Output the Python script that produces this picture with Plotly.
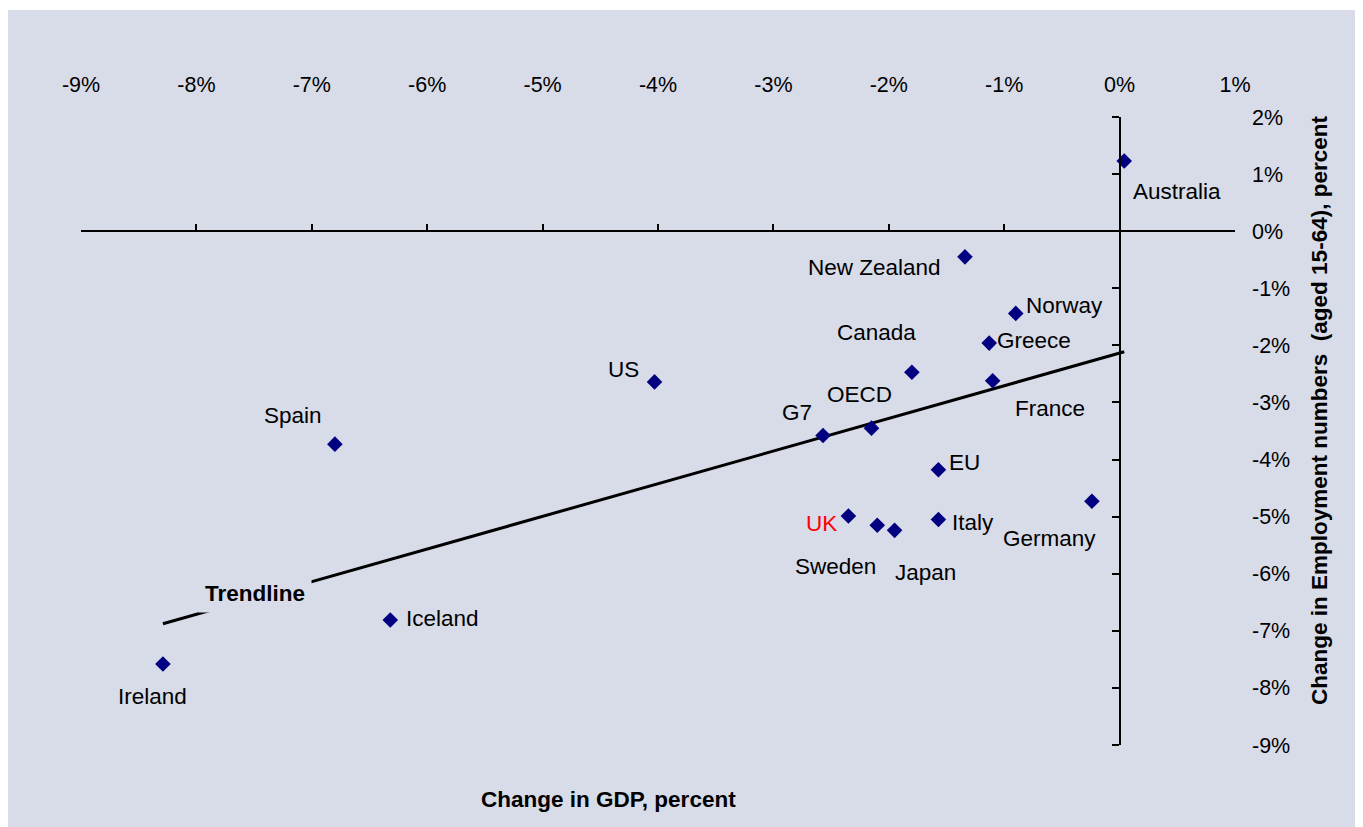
import numpy as np
import plotly.graph_objects as go

# ---------------- data ----------------
countries = ["Australia", "New Zealand", "Norway", "Greece", "France", "Canada",
             "US", "Spain", "G7", "OECD", "EU", "Germany", "UK", "Sweden",
             "Japan", "Italy", "Iceland", "Ireland"]
gdp_change = [0.04, -1.34, -0.90, -1.13, -1.10, -1.80, -4.03, -6.80, -2.57,
              -2.15, -1.57, -0.24, -2.35, -2.10, -1.95, -1.57, -6.32, -8.29]
emp_change = [1.23, -0.45, -1.44, -1.96, -2.62, -2.47, -2.64, -3.73, -3.58,
              -3.45, -4.18, -4.73, -4.99, -5.15, -5.24, -5.05, -6.81, -7.58]

x_ticks = list(range(-9, 2))
x_tick_labels = [f"{v}%" for v in x_ticks]
y_ticks = list(range(-9, 3))
y_tick_labels = [f"{v}%" for v in y_ticks]

# label placement (pixel offsets from the point: right, down)
label_offsets = {
    "Australia": (53, 31), "New Zealand": (-90, 11), "Norway": (49, -8),
    "Greece": (45, -3), "France": (57, 28), "Canada": (-35, -40),
    "US": (-31, -12), "Spain": (-42, -29), "G7": (-26, -23),
    "OECD": (-12, -34), "EU": (26, -7), "Germany": (-42, 37),
    "UK": (-27, 7), "Sweden": (-42, 41), "Japan": (31, 42),
    "Italy": (35, 3), "Iceland": (52, -1), "Ireland": (-10, 33),
}

BG = "#D8DBE8"
FONT = "Liberation Sans, Arial, sans-serif"
FS_TICK = 21.5
FS = 22.5
X_RANGE = [-9, 1]
Y_RANGE = [-9, 2]

# trendline: least squares fit over all points, spanning the data range
slope, intercept = np.polyfit(gdp_change, emp_change, 1)
tx = np.array([min(gdp_change), max(gdp_change)])
ty = slope * tx + intercept

fig = go.Figure()

fig.add_trace(go.Scatter(
    x=tx, y=ty, mode="lines", xaxis="x", yaxis="y",
    line=dict(color="black", width=3),
    hoverinfo="skip", showlegend=False,
))

fig.add_trace(go.Scatter(
    x=gdp_change, y=emp_change, mode="markers", xaxis="x2", yaxis="y2",
    marker=dict(symbol="diamond", size=12, color="#000080",
                line=dict(width=0)),
    text=countries, showlegend=False,
))

for name, xv, yv in zip(countries, gdp_change, emp_change):
    dx, dy = label_offsets[name]
    fig.add_annotation(
        x=xv, y=yv, xref="x", yref="y", text=name, showarrow=False,
        xshift=dx, yshift=-dy, xanchor="center", yanchor="middle",
        font=dict(family=FONT, size=FS, color="red" if name == "UK" else "black"),
    )

# trendline label (with background that hides the line behind it)
fig.add_annotation(
    x=-7.49, y=-6.34, xref="x", yref="y", text="<b>Trendline</b>",
    showarrow=False, bgcolor=BG, borderpad=6,
    xanchor="center", yanchor="middle",
    font=dict(family=FONT, size=FS, color="black"),
)

# axis titles
fig.add_annotation(
    x=0.4567, y=-0.086, xref="paper", yref="paper",
    xanchor="center", yanchor="middle",
    text="<b>Change in GDP, percent</b>", showarrow=False,
    font=dict(family=FONT, size=FS, color="black"),
)
fig.add_annotation(
    x=1.0737, y=0.532, xref="paper", yref="paper", textangle=-90,
    xanchor="center", yanchor="middle",
    text="<b>Change in Employment numbers  (aged 15-64), percent</b>",
    showarrow=False,
    font=dict(family=FONT, size=FS, color="black"),
)

# background panel
fig.add_shape(type="rect", xref="paper", yref="paper",
              x0=-0.08, x1=1.1083, y0=-0.15, y1=1.1704,
              fillcolor=BG, line=dict(width=0), layer="below")

axis_common = dict(showgrid=False, zeroline=False, fixedrange=True)

# page body has an 8px margin; the figure is sized/offset to compensate
fig.update_layout(
    width=1355, height=819,
    margin=dict(l=73, r=128, t=109, b=82),
    paper_bgcolor="white", plot_bgcolor=BG,
    font=dict(family=FONT, size=FS_TICK, color="black"),
    showlegend=False,
    xaxis=dict(range=X_RANGE, side="top", showline=False, ticks="",
               tickvals=x_ticks, ticktext=x_tick_labels,
               tickfont=dict(size=FS_TICK),
               ticklabelstandoff=20, **axis_common),
    yaxis=dict(range=Y_RANGE, side="right", showline=False, ticks="",
               tickvals=y_ticks, ticktext=y_tick_labels,
               tickfont=dict(size=FS_TICK),
               ticklabelstandoff=16, **axis_common),
    xaxis2=dict(range=X_RANGE, overlaying="x", anchor="free", position=9 / 11,
                side="bottom", showline=True, linecolor="black", linewidth=1.5,
                ticks="inside", ticklen=6, tickwidth=1.5, tickcolor="black",
                tickvals=x_ticks, showticklabels=False, **axis_common),
    yaxis2=dict(range=Y_RANGE, overlaying="y", anchor="free", position=0.9,
                side="left", showline=True, linecolor="black", linewidth=1.5,
                ticks="outside", ticklen=7, tickwidth=1.5, tickcolor="black",
                tickvals=y_ticks, showticklabels=False, **axis_common),
)

fig.write_html("out.html")
